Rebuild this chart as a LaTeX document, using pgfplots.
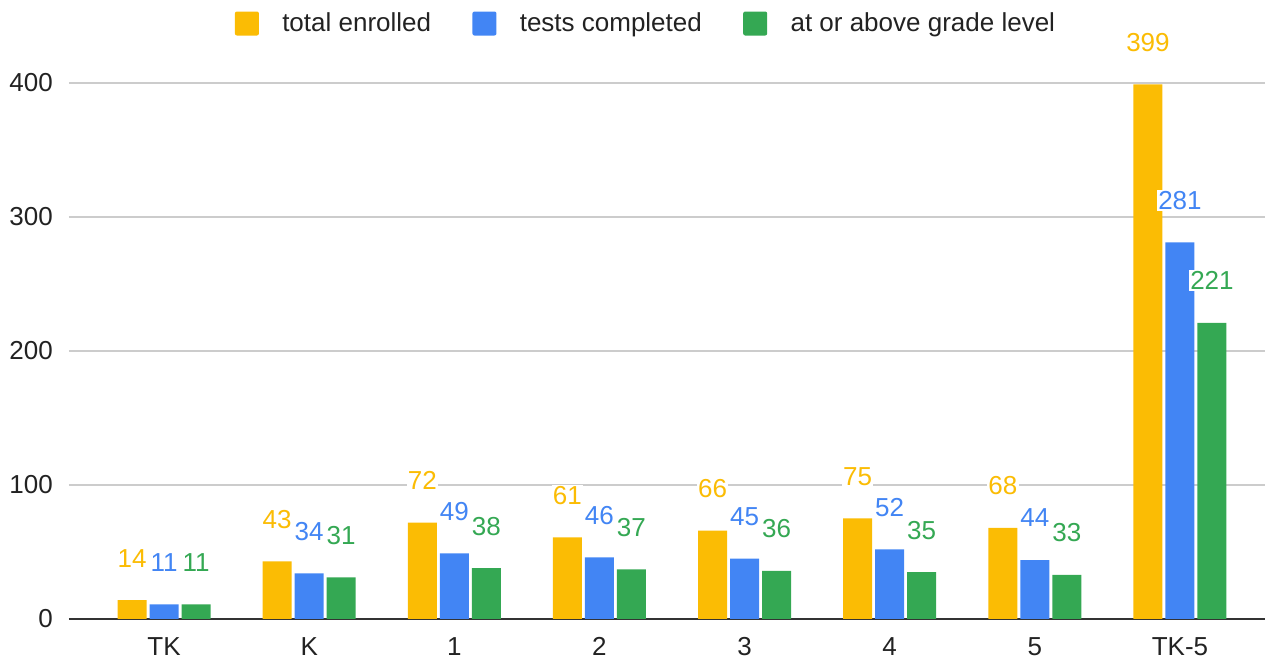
\documentclass[border=0pt]{standalone}
\usepackage{fontspec}
\setmainfont{Liberation Sans}
\usepackage{pgfplots}
\pgfplotsset{compat=1.18}
\definecolor{cYel}{HTML}{FBBC04}
\definecolor{cBlu}{HTML}{4285F4}
\definecolor{cGrn}{HTML}{34A853}
\definecolor{gridc}{HTML}{CCCCCC}
\definecolor{txt}{HTML}{222222}
\newcommand{\chartfont}{\fontsize{19.5}{23}\selectfont}

\begin{document}
\begin{tikzpicture}
\useasboundingbox (-51.75pt,-30.75pt) rectangle (897pt,464.25pt);
\begin{axis}[
  at={(0pt,0pt)}, anchor=south west,
  scale only axis, width=897pt, height=402pt,
  clip=false,
  /pgf/number format/assume math mode=true,
  xmin=-0.655, xmax=7.586, ymin=0, ymax=400,
  ybar=2.25pt, bar width=21.75pt,
  xtick={0,...,7},
  xticklabels={TK,K,1,2,3,4,5,TK-5},
  ytick={0,100,200,300,400},
  major tick length=0pt,
  ymajorgrids, grid style={draw=gridc, line width=0.8pt},
  axis x line*=bottom, axis y line*=left,
  y axis line style={draw=none},
  x axis line style={draw=black!80, line width=1.1pt, -},
  xticklabel style={font=\chartfont, text=txt, inner sep=0pt, anchor=north, yshift=-13.5pt},
  yticklabel style={font=\chartfont, text=txt, inner sep=0pt, anchor=east, xshift=-12pt},
  nodes near coords,
  every node near coord/.append style={font=\chartfont, anchor=center, yshift=31.5pt, fill=white, inner sep=1pt},
  legend columns=3,
  legend image code/.code={
    \fill[#1, rounded corners=1.5pt] (0pt,-9pt) rectangle (18pt,9pt);
  },
  legend style={draw=none, fill=none, inner sep=0pt, at={(0.4816,1.111)}, anchor=center,
    font=\chartfont, nodes={inner sep=0pt, text=txt},
    /tikz/every odd column/.append style={column sep=17.5pt},
    /tikz/every even column/.append style={column sep=31pt}},
]
\addplot[fill=cYel, draw=none, every node near coord/.append style={text=cYel}] coordinates {
  (0,14) (1,43) (2,72) (3,61) (4,66) (5,75) (6,68) (7,399)
};
\addlegendentry{total enrolled}
\addplot[fill=cBlu, draw=none, every node near coord/.append style={text=cBlu}] coordinates {
  (0,11) (1,34) (2,49) (3,46) (4,45) (5,52) (6,44) (7,281)
};
\addlegendentry{tests completed}
\addplot[fill=cGrn, draw=none, every node near coord/.append style={text=cGrn}] coordinates {
  (0,11) (1,31) (2,38) (3,37) (4,36) (5,35) (6,33) (7,221)
};
\addlegendentry{at or above grade level}
\end{axis}
\end{tikzpicture}
\end{document}
